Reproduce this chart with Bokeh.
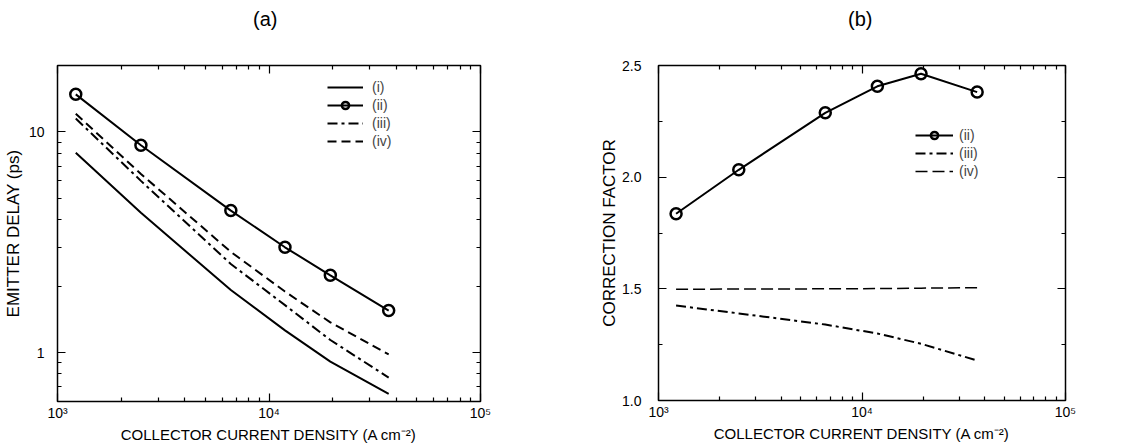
from bokeh.plotting import figure
from bokeh.layouts import row, column
from bokeh.embed import file_html
from bokeh.resources import INLINE
from bokeh.models import (FixedTicker, LogAxis, LinearAxis, Legend, LegendItem,
                          Range1d, PrintfTickFormatter, Div)

# ---- data ----
density = [1220, 2480, 6600, 11900, 19500, 36800]  # A cm^-2

# panel (a): emitter delay (ps)
delay_i = [8.05, 4.3, 1.92, 1.26, 0.91, 0.65]
delay_ii = [14.8, 8.7, 4.4, 3.0, 2.24, 1.55]
delay_iii = [11.5, 6.0, 2.52, 1.64, 1.14, 0.77]
delay_iv = [12.1, 6.45, 2.86, 1.89, 1.37, 0.98]

# panel (b): correction factor
corr_ii = [1.836, 2.033, 2.288, 2.407, 2.463, 2.381]
corr_iii = [1.425, 1.39, 1.34, 1.30, 1.254, 1.179]
corr_iv = [1.498, 1.499, 1.500, 1.501, 1.503, 1.505]

x_ticks = [1e3, 1e4, 1e5]
x_minor = [k * 10 ** e for e in (3, 4) for k in range(2, 10)]
x_labels = {1000: "10³", 10000: "10⁴", 100000: "10⁵"}
ya_ticks = [1, 10]
ya_minor = [0.6, 0.7, 0.8, 0.9] + list(range(2, 10)) + [20]
ya_labels = {1: "1", 10: "10"}
yb_ticks = [1.0, 1.5, 2.0, 2.5]
yb_minor = [1.25, 1.75, 2.25]

panel_titles = ["(a)", "(b)"]

FONT = "Liberation Sans"
XLABEL = "COLLECTOR CURRENT DENSITY (A cm⁻²)"


def style_axis(ax, labels=True, vertical=False):
    ax.level = "overlay"
    ax.major_tick_in = 8
    ax.major_tick_out = 0
    ax.minor_tick_in = 4
    ax.minor_tick_out = 0
    ax.major_tick_line_width = 1.2
    ax.minor_tick_line_width = 1.2
    ax.axis_line_color = "black"
    ax.major_tick_line_color = "black"
    ax.minor_tick_line_color = "black"
    ax.major_label_text_font = FONT
    ax.major_label_text_color = "black"
    ax.axis_label_text_font = FONT
    ax.axis_label_text_font_size = "17px" if vertical else "15px"
    ax.axis_label_text_font_style = "normal"
    ax.axis_label_text_color = "black"
    if labels:
        ax.major_label_text_font_size = "14px"
    else:
        ax.major_label_text_font_size = "1px"
        ax.major_label_text_color = None
        ax.major_label_standoff = 0


def base(fig):
    fig.grid.visible = False
    fig.outline_line_color = "black"
    fig.outline_line_width = 1.5
    fig.title.visible = False
    fig.background_fill_color = None
    fig.border_fill_color = None


# ---------------- panel (a) ----------------
p1 = figure(frame_width=423, frame_height=336, x_axis_type="log",
            y_axis_type="log",
            x_range=Range1d(1e3, 1e5), y_range=Range1d(0.6, 20),
            output_backend="svg", toolbar_location=None,
            min_border_left=49, min_border_right=80, min_border_top=35,
            min_border_bottom=30)
base(p1)
p1.xaxis.ticker = FixedTicker(ticks=x_ticks, minor_ticks=x_minor)
p1.xaxis.major_label_overrides = x_labels
p1.xaxis.axis_label = XLABEL
p1.yaxis.ticker = FixedTicker(ticks=ya_ticks, minor_ticks=ya_minor)
p1.yaxis.major_label_overrides = ya_labels
p1.yaxis.axis_label = "EMITTER DELAY (ps)"
style_axis(p1.xaxis[0])
style_axis(p1.yaxis[0], vertical=True)
p1.xaxis.major_label_standoff = 3
p1.xaxis.axis_label_standoff = 2
p1.yaxis.major_label_standoff = 13
p1.yaxis.axis_label_standoff = 3

top1 = LogAxis(ticker=FixedTicker(ticks=x_ticks, minor_ticks=x_minor))
style_axis(top1, labels=False)
p1.add_layout(top1, "above")
right1 = LogAxis(ticker=FixedTicker(ticks=ya_ticks, minor_ticks=ya_minor))
style_axis(right1, labels=False)
p1.add_layout(right1, "right")

r_i = p1.line(density, delay_i, line_color="black", line_width=2)
r_ii = p1.line(density, delay_ii, line_color="black", line_width=2)
r_ii_m = p1.scatter(density, delay_ii, marker="circle", size=11,
                    fill_alpha=0, line_color="black", line_width=2.5)
r_iii = p1.line(density, delay_iii, line_color="black", line_width=2,
                line_dash="10 4 3 4")
r_iv = p1.line(density, delay_iv, line_color="black", line_width=2,
               line_dash="9 5")

leg1 = Legend(items=[LegendItem(label="(i)", renderers=[r_i]),
                     LegendItem(label="(ii)", renderers=[r_ii, r_ii_m]),
                     LegendItem(label="(iii)", renderers=[r_iii]),
                     LegendItem(label="(iv)", renderers=[r_iv])],
              location=(270, 251), glyph_width=36, glyph_height=18,
              label_height=18, spacing=0, padding=0, margin=0,
              label_standoff=9, border_line_color=None,
              background_fill_alpha=0, label_text_font=FONT,
              label_text_font_size="14px")
p1.add_layout(leg1, "center")

# ---------------- panel (b) ----------------
p2 = figure(frame_width=407, frame_height=335, x_axis_type="log",
            x_range=Range1d(1e3, 1e5), y_range=Range1d(1.0, 2.5),
            output_backend="svg", toolbar_location=None,
            min_border_left=98, min_border_right=66, min_border_top=35,
            min_border_bottom=31)
base(p2)
p2.xaxis.ticker = FixedTicker(ticks=x_ticks, minor_ticks=x_minor)
p2.xaxis.major_label_overrides = x_labels
p2.xaxis.axis_label = XLABEL
p2.yaxis.ticker = FixedTicker(ticks=yb_ticks, minor_ticks=yb_minor)
p2.yaxis.formatter = PrintfTickFormatter(format="%.1f")
p2.yaxis.axis_label = "CORRECTION FACTOR"
style_axis(p2.xaxis[0])
style_axis(p2.yaxis[0], vertical=True)
p2.xaxis.major_label_standoff = 3
p2.xaxis.axis_label_standoff = 2
p2.yaxis.major_label_standoff = 17
p2.yaxis.axis_label_standoff = 0

top2 = LogAxis(ticker=FixedTicker(ticks=x_ticks, minor_ticks=x_minor))
style_axis(top2, labels=False)
p2.add_layout(top2, "above")
right2 = LinearAxis(ticker=FixedTicker(ticks=yb_ticks, minor_ticks=yb_minor))
style_axis(right2, labels=False)
p2.add_layout(right2, "right")

s_ii = p2.line(density, corr_ii, line_color="black", line_width=2)
s_ii_m = p2.scatter(density, corr_ii, marker="circle", size=11,
                    fill_alpha=0, line_color="black", line_width=2.5)
s_iii = p2.line(density, corr_iii, line_color="black", line_width=2,
                line_dash="10 4 3 4")
s_iv = p2.line(density, corr_iv, line_color="black", line_width=1.5,
               line_dash="12 5")

leg2 = Legend(items=[LegendItem(label="(ii)", renderers=[s_ii, s_ii_m]),
                     LegendItem(label="(iii)", renderers=[s_iii]),
                     LegendItem(label="(iv)", renderers=[s_iv])],
              location=(257, 220), glyph_width=38, glyph_height=18,
              label_height=18, spacing=0, padding=0, margin=0,
              label_standoff=6, border_line_color=None,
              background_fill_alpha=0, label_text_font=FONT,
              label_text_font_size="14px")
p2.add_layout(leg2, "center")

# ---------------- panel titles ----------------
title_html = (
    '<div style="position:relative;width:1123px;height:30px;'
    'font-family:\'Liberation Sans\';font-size:20px;line-height:20px;'
    'color:black;">'
    '<span style="position:absolute;left:253px;top:9px;">%s</span>'
    '<span style="position:absolute;left:848px;top:9px;">%s</span>'
    '</div>' % (panel_titles[0], panel_titles[1])
)
titles = Div(text=title_html, width=1123, height=30, margin=(0, 0, 0, 0))

layout = column(titles, row(p1, p2, spacing=0), spacing=0)
open("out.html", "w").write(file_html(layout, INLINE))
